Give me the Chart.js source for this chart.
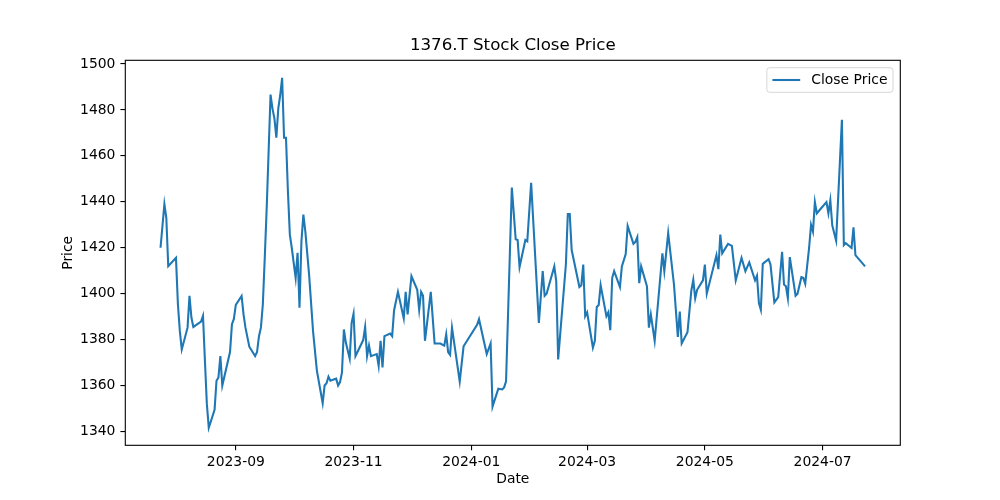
<!DOCTYPE html>
<html><head><meta charset="utf-8">
<script src="https://cdn.jsdelivr.net/npm/chart.js@4.4.0/dist/chart.umd.min.js"></script>
<style>html,body{margin:0;padding:0;background:#fff;}canvas{display:block;}</style>
</head><body>
<canvas id="c" width="1000" height="500"></canvas>
<script>
const chartTitle = '1376.T Stock Close Price';
const seriesName = 'Close Price';
const xAxisTitle = 'Date';
const yAxisTitle = 'Price';

const dates = [
 '2023-07-24','2023-07-26','2023-07-27','2023-07-28','2023-08-01','2023-08-02','2023-08-03','2023-08-04',
 '2023-08-07','2023-08-08','2023-08-09','2023-08-10','2023-08-14','2023-08-15','2023-08-16','2023-08-17',
 '2023-08-18','2023-08-21','2023-08-22','2023-08-23','2023-08-24','2023-08-25','2023-08-29','2023-08-30',
 '2023-08-31','2023-09-01','2023-09-04','2023-09-05','2023-09-06','2023-09-08','2023-09-11','2023-09-12',
 '2023-09-13','2023-09-14','2023-09-15','2023-09-16','2023-09-17','2023-09-19','2023-09-20','2023-09-21',
 '2023-09-22','2023-09-23','2023-09-24','2023-09-25','2023-09-26','2023-09-27','2023-09-28','2023-09-29',
 '2023-09-30','2023-10-02','2023-10-03','2023-10-04','2023-10-05','2023-10-06','2023-10-07','2023-10-09',
 '2023-10-11','2023-10-13','2023-10-16','2023-10-17','2023-10-18','2023-10-19','2023-10-20','2023-10-22',
 '2023-10-23','2023-10-24','2023-10-25','2023-10-26','2023-10-27','2023-10-28','2023-10-30','2023-10-31',
 '2023-11-01','2023-11-02','2023-11-06','2023-11-07','2023-11-08','2023-11-09','2023-11-10','2023-11-13',
 '2023-11-14','2023-11-15','2023-11-16','2023-11-17','2023-11-20','2023-11-21','2023-11-22','2023-11-24',
 '2023-11-27','2023-11-28','2023-11-29','2023-12-01','2023-12-04','2023-12-05','2023-12-06','2023-12-07',
 '2023-12-08','2023-12-11','2023-12-13','2023-12-16','2023-12-18','2023-12-19','2023-12-20','2023-12-21',
 '2023-12-22','2023-12-26','2023-12-28','2024-01-04','2024-01-05','2024-01-09','2024-01-11','2024-01-12',
 '2024-01-15','2024-01-17','2024-01-18','2024-01-19','2024-01-22','2024-01-24','2024-01-25','2024-01-26',
 '2024-01-29','2024-01-30','2024-02-01','2024-02-05','2024-02-07','2024-02-08','2024-02-09','2024-02-13',
 '2024-02-14','2024-02-15','2024-02-19','2024-02-20','2024-02-21','2024-02-22','2024-02-26','2024-02-27',
 '2024-02-28','2024-02-29','2024-03-01','2024-03-04','2024-03-05','2024-03-06','2024-03-07','2024-03-08',
 '2024-03-11','2024-03-12','2024-03-13','2024-03-14','2024-03-15','2024-03-18','2024-03-19','2024-03-21',
 '2024-03-22','2024-03-25','2024-03-26','2024-03-27','2024-03-28','2024-03-29','2024-04-01','2024-04-02',
 '2024-04-03','2024-04-05','2024-04-09','2024-04-10','2024-04-12','2024-04-15','2024-04-17','2024-04-18',
 '2024-04-19','2024-04-22','2024-04-24','2024-04-25','2024-04-26','2024-04-27','2024-04-30','2024-05-01',
 '2024-05-02','2024-05-07','2024-05-08','2024-05-09','2024-05-10','2024-05-13','2024-05-15','2024-05-17',
 '2024-05-18','2024-05-20','2024-05-22','2024-05-24','2024-05-27','2024-05-28','2024-05-29','2024-05-30',
 '2024-05-31','2024-06-03','2024-06-04','2024-06-06','2024-06-08','2024-06-10','2024-06-11','2024-06-12',
 '2024-06-13','2024-06-14','2024-06-17','2024-06-18','2024-06-20','2024-06-21','2024-06-22','2024-06-24',
 '2024-06-25','2024-06-26','2024-06-27','2024-06-28','2024-07-03','2024-07-04','2024-07-05','2024-07-06',
 '2024-07-08','2024-07-11','2024-07-12','2024-07-13','2024-07-16','2024-07-17','2024-07-18','2024-07-23'
];

const closePrices = [
 1420.0,1439.0,1433.0,1412.0,1415.6,1395.5,1383.8,1375.7,
 1385.2,1399.1,1389.6,1385.5,1387.8,1390.3,1370.8,1352.0,
 1341.6,1349.4,1362.1,1363.5,1372.8,1360.0,1374.6,1386.7,
 1389.0,1395.1,1399.0,1391.0,1385.2,1376.9,1372.8,1374.6,
 1381.5,1385.2,1395.3,1415.6,1437.3,1486.7,1480.6,1476.3,
 1467.9,1480.6,1486.4,1494.0,1467.9,1467.9,1444.5,1425.7,
 1419.9,1406.9,1417.8,1393.9,1422.8,1434.4,1427.2,1408.0,
 1383.8,1366.5,1352.3,1360.0,1361.0,1363.9,1362.1,1362.7,
 1363.0,1360.0,1361.5,1365.7,1384.4,1378.7,1371.7,1387.3,
 1391.3,1372.8,1379.8,1385.5,1372.8,1377.4,1372.8,1373.7,
 1368.6,1379.5,1367.9,1381.5,1382.6,1381.5,1392.8,1400.8,
 1389.3,1400.8,1391.0,1407.6,1401.7,1393.0,1400.8,1399.1,
 1379.5,1400.8,1378.3,1378.3,1377.4,1382.3,1374.6,1373.4,
 1385.2,1361.8,1377.1,1386.4,1388.9,1373.7,1378.3,1350.8,
 1358.6,1358.3,1359.2,1361.8,1446.2,1423.7,1423.4,1411.6,
 1423.4,1422.8,1448.3,1387.3,1409.8,1399.1,1400.0,1411.9,
 1405.5,1371.4,1412.7,1434.7,1434.7,1419.0,1402.9,1403.7,
 1412.7,1390.2,1391.9,1376.5,1379.5,1394.2,1395.1,1403.7,
 1390.2,1391.9,1384.1,1406.9,1409.8,1402.9,1411.9,1417.3,
 1429.5,1421.7,1422.5,1424.6,1404.6,1411.9,1403.2,1385.2,
 1391.0,1379.5,1417.6,1409.8,1426.4,1404.0,1381.2,1392.2,
 1378.3,1383.2,1401.4,1406.0,1398.0,1401.7,1405.8,1412.7,
 1400.0,1416.8,1410.7,1425.7,1417.6,1421.7,1420.8,1405.8,
 1409.0,1415.6,1409.8,1413.6,1405.8,1407.8,1395.9,1393.0,
 1413.0,1415.0,1412.7,1396.2,1398.5,1418.2,1404.0,1403.2,
 1398.0,1415.9,1399.1,1400.0,1407.2,1406.9,1404.3,1419.9,
 1430.0,1427.0,1439.9,1435.0,1439.9,1435.0,1440.7,1429.8,
 1423.1,1475.7,1421.1,1422.0,1419.9,1428.9,1416.8,1411.9
];

const xTickLabels = ['2023-09','2023-11','2024-01','2024-03','2024-05','2024-07'];
const yTickValues = [1340,1360,1380,1400,1420,1440,1460,1480,1500];

const DAY = 86400000;
const toDay = s => Date.parse(s) / DAY;
const points = dates.map((d, i) => ({x: toDay(d), y: closePrices[i]}));

const xs = points.map(p => p.x), ys = closePrices;
const xMin0 = Math.min(...xs), xMax0 = Math.max(...xs);
const yMin0 = Math.min(...ys), yMax0 = Math.max(...ys);
const xPad = (xMax0 - xMin0) * 0.05, yPad = (yMax0 - yMin0) * 0.05;

const FONT = "'DejaVu Sans', sans-serif";
const TICK = 13.9;

const framePlugin = {
  id: 'frame',
  afterDatasetsDraw(chart) {
    const {ctx, chartArea: a} = chart;
    ctx.save();
    ctx.strokeStyle = '#000';
    ctx.lineWidth = 1.1;
    ctx.strokeRect(a.left, a.top, a.right - a.left, a.bottom - a.top);
    ctx.font = TICK + 'px ' + FONT;
    const tw = ctx.measureText(seriesName).width;
    const pad = 0.4 * TICK, hl = 2.0 * TICK, htp = 0.8 * TICK;
    const w = pad + hl + htp + tw + pad;
    const h = 24.6;
    const x = a.right - 7.3 - w, y = a.top + 7.4;
    const r = 2.8;
    ctx.beginPath();
    ctx.moveTo(x + r, y);
    ctx.lineTo(x + w - r, y); ctx.arcTo(x + w, y, x + w, y + r, r);
    ctx.lineTo(x + w, y + h - r); ctx.arcTo(x + w, y + h, x + w - r, y + h, r);
    ctx.lineTo(x + r, y + h); ctx.arcTo(x, y + h, x, y + h - r, r);
    ctx.lineTo(x, y + r); ctx.arcTo(x, y, x + r, y, r);
    ctx.closePath();
    ctx.fillStyle = 'rgba(255,255,255,0.8)';
    ctx.fill();
    ctx.strokeStyle = 'rgba(204,204,204,0.8)';
    ctx.lineWidth = 1;
    ctx.stroke();
    const cy = y + h / 2;
    ctx.strokeStyle = '#1f77b4';
    ctx.lineWidth = 2.08;
    ctx.beginPath();
    ctx.moveTo(x + pad, cy); ctx.lineTo(x + pad + hl, cy);
    ctx.stroke();
    ctx.fillStyle = '#000';
    ctx.textBaseline = 'middle';
    ctx.textAlign = 'left';
    ctx.fillText(seriesName, x + pad + hl + htp, cy);
    ctx.restore();
  }
};

new Chart(document.getElementById('c'), {
  type: 'line',
  data: {
    datasets: [{
      label: seriesName,
      data: points,
      borderColor: '#1f77b4',
      backgroundColor: '#1f77b4',
      borderWidth: 2.08,
      pointRadius: 0,
      tension: 0,
      fill: false
    }]
  },
  options: {
    responsive: false,
    animation: false,
    devicePixelRatio: 1,
    layout: {padding: {left: 0, right: 99.7, top: 0, bottom: 0}},
    plugins: {
      legend: {display: false},
      tooltip: {enabled: false},
      title: {
        display: true,
        text: chartTitle,
        fullSize: false,
        color: '#000',
        font: {family: FONT, size: 16.67, weight: 'normal', lineHeight: 1.2},
        padding: {top: 36, bottom: 4.3}
      }
    },
    scales: {
      x: {
        type: 'linear',
        min: xMin0 - xPad,
        max: xMax0 + xPad,
        afterBuildTicks: s => { s.ticks = xTickLabels.map(l => ({value: toDay(l + '-01')})); },
        afterFit: s => { s.height = 54.7; },
        ticks: {
          autoSkip: false, maxRotation: 0, minRotation: 0, padding: 4, color: '#000',
          font: {family: FONT, size: TICK},
          callback: (v, i) => xTickLabels[i]
        },
        grid: {display: true, drawOnChartArea: false, drawTicks: true, tickLength: 4.9, color: '#000', lineWidth: 1.1},
        border: {display: false},
        title: {display: true, text: xAxisTitle, color: '#000', font: {family: FONT, size: TICK}, padding: {top: 0, bottom: 12.2}}
      },
      y: {
        type: 'linear',
        min: yMin0 - yPad,
        max: yMax0 + yPad,
        afterBuildTicks: s => { s.ticks = yTickValues.map(v => ({value: v})); },
        afterFit: s => { s.width = 125.3; },
        ticks: {
          padding: 5, color: '#000',
          font: {family: FONT, size: TICK},
          callback: v => String(v)
        },
        grid: {display: true, drawOnChartArea: false, drawTicks: true, tickLength: 4.9, color: '#000', lineWidth: 1.1},
        border: {display: false},
        title: {display: true, text: yAxisTitle, color: '#000', font: {family: FONT, size: TICK}, padding: {top: 59.7, bottom: 0}}
      }
    }
  },
  plugins: [framePlugin]
});
</script>
</body></html>
